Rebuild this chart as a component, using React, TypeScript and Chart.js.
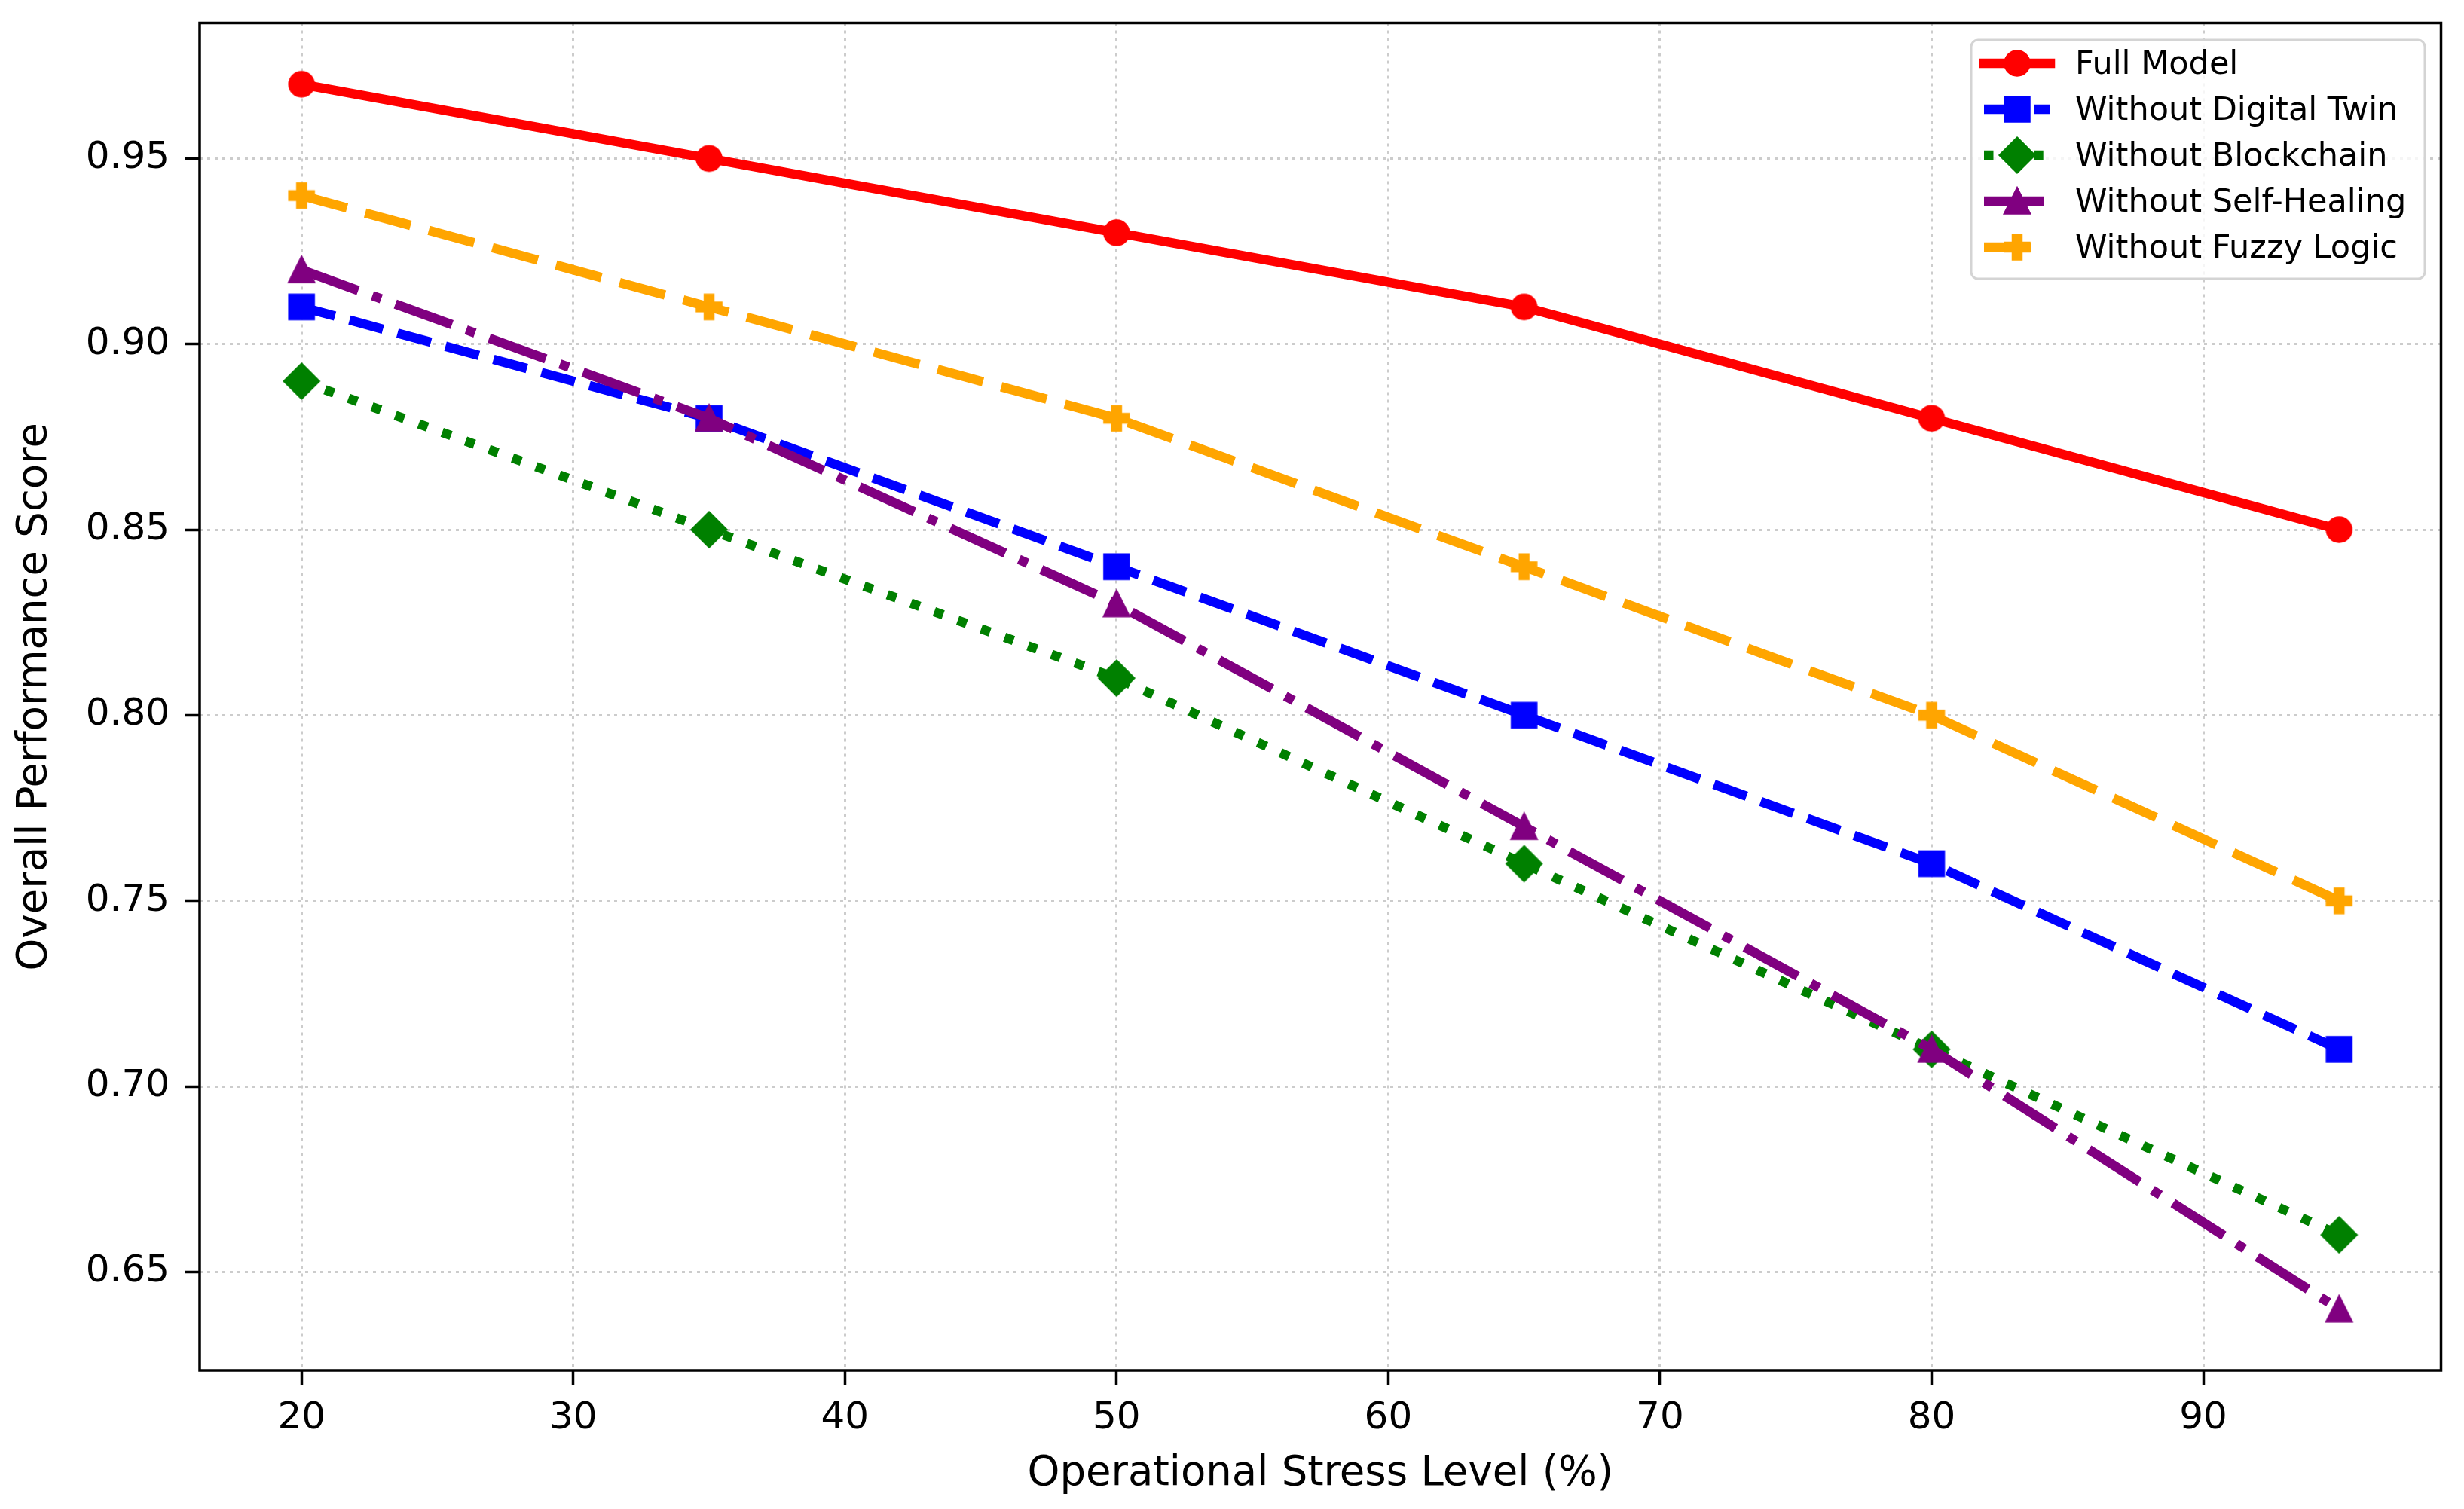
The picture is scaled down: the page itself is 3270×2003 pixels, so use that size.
import React, { useEffect, useRef } from "react";
import { Chart, registerables } from "chart.js";

Chart.register(...registerables);

// data
const stressLevels = [20, 35, 50, 65, 80, 95];
const fullModel = [0.97, 0.95, 0.93, 0.91, 0.88, 0.85];
const withoutDigitalTwin = [0.91, 0.88, 0.84, 0.8, 0.76, 0.71];
const withoutBlockchain = [0.89, 0.85, 0.81, 0.76, 0.71, 0.66];
const withoutSelfHealing = [0.92, 0.88, 0.83, 0.77, 0.71, 0.64];
const withoutFuzzyLogic = [0.94, 0.91, 0.88, 0.84, 0.8, 0.75];
const seriesNames = [
  "Full Model",
  "Without Digital Twin",
  "Without Blockchain",
  "Without Self-Healing",
  "Without Fuzzy Logic",
];
const seriesValues = [
  fullModel,
  withoutDigitalTwin,
  withoutBlockchain,
  withoutSelfHealing,
  withoutFuzzyLogic,
];
const xTicks = [20, 30, 40, 50, 60, 70, 80, 90];
const yTicks = [0.65, 0.7, 0.75, 0.8, 0.85, 0.9, 0.95];

const FONT = "'DejaVu Sans', sans-serif";
const LW = 12.5;

// line / marker look, matplotlib-like
const seriesStyles = [
  { color: "#ff0000", dash: [] as number[], marker: "circle" },
  { color: "#0000ff", dash: [46, 20], marker: "square" },
  { color: "#008000", dash: [12.5, 20.6], marker: "diamond" },
  { color: "#800080", dash: [80, 20, 12.5, 20], marker: "triangle" },
  { color: "#ffa500", dash: [62.5, 25], marker: "plus" },
];

function makeMarker(kind: string, color: string) {
  const c = document.createElement("canvas");
  c.width = 64;
  c.height = 64;
  const ctx = c.getContext("2d")!;
  const s = 31.5;
  const h = s / 2;
  ctx.translate(32, 32);
  ctx.beginPath();
  if (kind === "circle") {
    ctx.arc(0, 0, h, 0, Math.PI * 2);
  } else if (kind === "square") {
    ctx.rect(-h, -h, s, s);
  } else if (kind === "diamond") {
    const d = h * Math.SQRT2;
    ctx.moveTo(0, -d);
    ctx.lineTo(d, 0);
    ctx.lineTo(0, d);
    ctx.lineTo(-d, 0);
  } else if (kind === "triangle") {
    ctx.moveTo(0, -h);
    ctx.lineTo(h, h);
    ctx.lineTo(-h, h);
  } else {
    const a = s / 6;
    const pts = [
      [-1, -3], [1, -3], [1, -1], [3, -1], [3, 1], [1, 1],
      [1, 3], [-1, 3], [-1, 1], [-3, 1], [-3, -1], [-1, -1],
    ];
    pts.forEach(([px, py], i) =>
      i === 0 ? ctx.moveTo(px * a, py * a) : ctx.lineTo(px * a, py * a)
    );
  }
  ctx.closePath();
  ctx.fillStyle = color;
  ctx.fill();
  ctx.lineWidth = 4;
  ctx.lineJoin = "miter";
  ctx.strokeStyle = color;
  ctx.stroke();
  return c;
}

const App: React.FC = () => {
  const chartRef = useRef<HTMLCanvasElement>(null);

  useEffect(() => {
    if (!chartRef.current) return;
    const markers = seriesStyles.map((s) => makeMarker(s.marker, s.color));

    const framePlugin = {
      id: "frame",
      afterDatasetsDraw(chart: any) {
        const { ctx, chartArea: a } = chart;
        ctx.save();
        ctx.strokeStyle = "#000";
        ctx.lineWidth = 3.5;
        ctx.strokeRect(a.left, a.top, a.right - a.left, a.bottom - a.top);
        ctx.restore();
      },
    };

    const legendPlugin = {
      id: "mplLegend",
      afterDraw(chart: any) {
        const ctx = chart.ctx as CanvasRenderingContext2D;
        const bx = 2616, by = 53, bw = 602, bh = 317, r = 9;
        ctx.save();
        ctx.beginPath();
        ctx.moveTo(bx + r, by);
        ctx.arcTo(bx + bw, by, bx + bw, by + bh, r);
        ctx.arcTo(bx + bw, by + bh, bx, by + bh, r);
        ctx.arcTo(bx, by + bh, bx, by, r);
        ctx.arcTo(bx, by, bx + bw, by, r);
        ctx.closePath();
        ctx.fillStyle = "rgba(255,255,255,0.8)";
        ctx.fill();
        ctx.lineWidth = 3;
        ctx.strokeStyle = "#d4d4d4";
        ctx.stroke();

        seriesNames.forEach((name, i) => {
          const st = seriesStyles[i];
          const y = 84 + i * 61;
          ctx.beginPath();
          ctx.setLineDash(st.dash);
          ctx.lineCap = st.dash.length ? "butt" : "square";
          ctx.lineWidth = LW;
          ctx.strokeStyle = st.color;
          ctx.moveTo(2633, y);
          ctx.lineTo(2721, y);
          ctx.stroke();
          ctx.setLineDash([]);
          const m = markers[i];
          ctx.drawImage(m, 2677 - m.width / 2, y - m.height / 2);
          ctx.fillStyle = "#000";
          ctx.font = `43px ${FONT}`;
          ctx.textBaseline = "middle";
          ctx.textAlign = "left";
          ctx.fillText(name, 2754, y + 3);
        });
        ctx.restore();
      },
    };

    const tickFont = { family: FONT, size: 50 };
    const gridOpts = {
      color: "#cccccc",
      lineWidth: 3,
      tickColor: "#000",
      tickWidth: 3.5,
      tickLength: 20,
    };
    const borderOpts = { display: false, dash: [4, 6] };

    const chart = new Chart(chartRef.current, {
      type: "line",
      data: {
        datasets: seriesValues.map((vals, i) => ({
          label: seriesNames[i],
          data: stressLevels.map((x, j) => ({ x, y: vals[j] })),
          borderColor: seriesStyles[i].color,
          backgroundColor: seriesStyles[i].color,
          borderWidth: LW,
          borderDash: seriesStyles[i].dash,
          borderCapStyle: "butt",
          borderJoinStyle: "round",
          pointStyle: markers[i],
          pointRadius: 18,
          pointHoverRadius: 18,
          tension: 0,
          fill: false,
          order: seriesNames.length - i,
        })),
      },
      options: {
        animation: false,
        responsive: true,
        maintainAspectRatio: false,
        devicePixelRatio: 1,
        layout: { padding: { top: 29, right: 28, left: 0, bottom: 0 } },
        plugins: {
          legend: { display: false },
          tooltip: { enabled: false },
        },
        events: [],
        scales: {
          x: {
            type: "linear",
            min: 16.25,
            max: 98.75,
            afterBuildTicks: (s: any) => {
              s.ticks = xTicks.map((v) => ({ value: v }));
            },
            afterFit: (s: any) => {
              s.height = 184;
              s.paddingLeft = 0;
              s.paddingRight = 0;
            },
            ticks: {
              font: tickFont,
              color: "#000",
              padding: 14,
              maxRotation: 0,
              autoSkip: false,
              callback: (v: any) => String(v),
            },
            grid: gridOpts,
            border: borderOpts,
            title: {
              display: true,
              text: "Operational Stress Level (%)",
              font: { family: FONT, size: 54.5 },
              color: "#000",
              padding: { top: 0, bottom: 13 },
            },
          },
          y: {
            type: "linear",
            min: 0.6235,
            max: 0.9865,
            afterBuildTicks: (s: any) => {
              s.ticks = yTicks.map((v) => ({ value: v }));
            },
            afterFit: (s: any) => {
              s.width = 265;
              s.paddingTop = 0;
              s.paddingBottom = 0;
            },
            ticks: {
              font: tickFont,
              color: "#000",
              padding: 20,
              callback: (v: any) => Number(v).toFixed(2),
            },
            grid: gridOpts,
            border: borderOpts,
            title: {
              display: true,
              text: "Overall Performance Score",
              font: { family: FONT, size: 54.5 },
              color: "#000",
              padding: { top: 14, bottom: 0 },
            },
          },
        },
      },
      plugins: [framePlugin, legendPlugin],
    } as any);

    return () => {
      chart.destroy();
    };
  }, []);

  return (
    <div
      style={{
        position: "absolute",
        left: 0,
        top: 0,
        width: 3270,
        height: 2003,
        background: "#fff",
      }}
    >
      <canvas ref={chartRef} />
    </div>
  );
};

export default App;
